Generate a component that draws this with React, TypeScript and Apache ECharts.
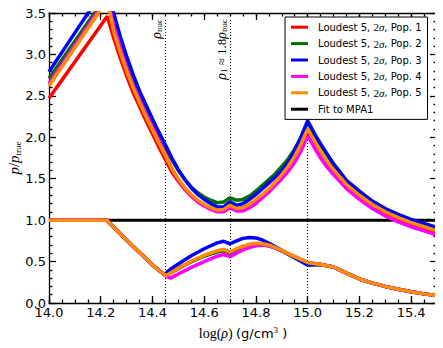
import React, { useEffect, useRef } from 'react';
import * as echarts from 'echarts';

type P = [number, number];

const popNames = [
  'Loudest 5, 2σ, Pop. 1',
  'Loudest 5, 2σ, Pop. 2',
  'Loudest 5, 2σ, Pop. 3',
  'Loudest 5, 2σ, Pop. 4',
  'Loudest 5, 2σ, Pop. 5',
];
const fitName = 'Fit to MPA1';
const popColors = ['#ff0000', '#007000', '#0000ff', '#ff00ff', '#ff8c00'];

const pop1Upper: P[] = [[14.0,2.47],[14.1,2.91],[14.2,3.35],[14.225,3.46],[14.25,3.20],[14.275,2.96],[14.3,2.74],[14.325,2.54],[14.35,2.37],[14.375,2.20],[14.4,2.04],[14.425,1.88],[14.45,1.73],[14.475,1.58],[14.5,1.47],[14.525,1.37],[14.55,1.29],[14.575,1.23],[14.6,1.18],[14.625,1.14],[14.65,1.11],[14.675,1.12],[14.7,1.18],[14.725,1.14],[14.75,1.15],[14.775,1.19],[14.8,1.24],[14.825,1.30],[14.85,1.37],[14.875,1.45],[14.9,1.54],[14.925,1.64],[14.95,1.75],[14.975,1.89],[15.0,2.06],[15.025,1.93],[15.05,1.81],[15.075,1.69],[15.1,1.59],[15.15,1.41],[15.2,1.28],[15.25,1.17],[15.3,1.08],[15.35,1.01],[15.4,0.95],[15.45,0.90],[15.5,0.85]];
const pop2Upper: P[] = [[14.0,2.71],[14.1,3.16],[14.2,3.61],[14.225,3.72],[14.25,3.40],[14.275,3.15],[14.3,2.92],[14.325,2.70],[14.35,2.51],[14.375,2.34],[14.4,2.17],[14.425,2.01],[14.45,1.87],[14.475,1.73],[14.5,1.60],[14.525,1.49],[14.55,1.40],[14.575,1.33],[14.6,1.28],[14.625,1.24],[14.65,1.21],[14.675,1.22],[14.7,1.27],[14.725,1.24],[14.75,1.25],[14.775,1.29],[14.8,1.35],[14.825,1.42],[14.85,1.49],[14.875,1.56],[14.9,1.65],[14.925,1.74],[14.95,1.86],[14.975,2.00],[15.0,2.18],[15.025,2.04],[15.05,1.91],[15.075,1.79],[15.1,1.67],[15.15,1.47],[15.2,1.34],[15.25,1.22],[15.3,1.13],[15.35,1.06],[15.4,1.00],[15.45,0.95],[15.5,0.90]];
const pop3Upper: P[] = [[14.0,2.79],[14.1,3.26],[14.2,3.73],[14.225,3.85],[14.25,3.50],[14.275,3.22],[14.3,2.98],[14.325,2.76],[14.35,2.56],[14.375,2.39],[14.4,2.22],[14.425,2.06],[14.45,1.91],[14.475,1.75],[14.5,1.61],[14.525,1.49],[14.55,1.39],[14.575,1.31],[14.6,1.25],[14.625,1.20],[14.65,1.16],[14.675,1.16],[14.7,1.22],[14.725,1.18],[14.75,1.20],[14.775,1.25],[14.8,1.31],[14.825,1.38],[14.85,1.45],[14.875,1.52],[14.9,1.60],[14.925,1.70],[14.95,1.84],[14.975,2.01],[15.0,2.20],[15.025,2.05],[15.05,1.92],[15.075,1.80],[15.1,1.68],[15.15,1.48],[15.2,1.35],[15.25,1.23],[15.3,1.14],[15.35,1.07],[15.4,1.01],[15.45,0.96],[15.5,0.91]];
const pop4Upper: P[] = [[14.0,2.65],[14.1,3.11],[14.2,3.57],[14.225,3.68],[14.25,3.35],[14.275,3.08],[14.3,2.84],[14.325,2.63],[14.35,2.45],[14.375,2.28],[14.4,2.12],[14.425,1.96],[14.45,1.80],[14.475,1.62],[14.5,1.49],[14.525,1.38],[14.55,1.29],[14.575,1.22],[14.6,1.17],[14.625,1.13],[14.65,1.10],[14.675,1.10],[14.7,1.15],[14.725,1.11],[14.75,1.11],[14.775,1.15],[14.8,1.20],[14.825,1.27],[14.85,1.34],[14.875,1.42],[14.9,1.50],[14.925,1.59],[14.95,1.70],[14.975,1.84],[15.0,2.02],[15.025,1.88],[15.05,1.75],[15.075,1.64],[15.1,1.55],[15.15,1.38],[15.2,1.25],[15.25,1.14],[15.3,1.05],[15.35,0.98],[15.4,0.92],[15.45,0.87],[15.5,0.82]];
const pop5Upper: P[] = [[14.0,2.62],[14.1,3.08],[14.2,3.54],[14.225,3.66],[14.25,3.28],[14.275,3.03],[14.3,2.80],[14.325,2.60],[14.35,2.42],[14.375,2.25],[14.4,2.09],[14.425,1.93],[14.45,1.78],[14.475,1.62],[14.5,1.50],[14.525,1.39],[14.55,1.31],[14.575,1.24],[14.6,1.19],[14.625,1.15],[14.65,1.12],[14.675,1.13],[14.7,1.18],[14.725,1.14],[14.75,1.15],[14.775,1.19],[14.8,1.25],[14.825,1.31],[14.85,1.38],[14.875,1.46],[14.9,1.55],[14.925,1.65],[14.95,1.77],[14.975,1.92],[15.0,2.10],[15.025,1.96],[15.05,1.83],[15.075,1.71],[15.1,1.61],[15.15,1.43],[15.2,1.30],[15.25,1.19],[15.3,1.10],[15.35,1.03],[15.4,0.97],[15.45,0.92],[15.5,0.87]];

// lower branch: shared start, per-population middle, shared tail
const lowerStart: P[] = [[14.0,1.0],[14.1,1.0],[14.2,1.0],[14.224,1.0],[14.25,0.915],[14.275,0.835],[14.3,0.76],[14.325,0.685],[14.35,0.61],[14.375,0.54],[14.4,0.46],[14.425,0.395],[14.45,0.335]];
const pop1LowerMid: P[] = [[14.455,0.335],[14.5,0.415],[14.55,0.50],[14.6,0.57],[14.65,0.625],[14.675,0.64],[14.7,0.61],[14.725,0.65],[14.75,0.68],[14.775,0.70],[14.8,0.715],[14.825,0.71],[14.85,0.695],[14.875,0.665],[14.9,0.63],[14.95,0.555],[15.0,0.485]];
const pop2LowerMid: P[] = [[14.455,0.34],[14.5,0.42],[14.55,0.50],[14.6,0.565],[14.65,0.615],[14.675,0.63],[14.7,0.60],[14.725,0.64],[14.75,0.67],[14.775,0.69],[14.8,0.70],[14.825,0.70],[14.85,0.69],[14.875,0.665],[14.9,0.63],[14.95,0.545],[15.0,0.46]];
const pop3LowerMid: P[] = [[14.455,0.37],[14.475,0.42],[14.5,0.47],[14.55,0.57],[14.6,0.655],[14.65,0.725],[14.675,0.745],[14.7,0.715],[14.725,0.75],[14.75,0.78],[14.775,0.79],[14.8,0.785],[14.825,0.76],[14.85,0.72],[14.875,0.68],[14.9,0.635],[14.95,0.55],[15.0,0.46]];
const pop4LowerMid: P[] = [[14.455,0.32],[14.47,0.30],[14.5,0.35],[14.55,0.43],[14.6,0.50],[14.65,0.565],[14.675,0.585],[14.7,0.56],[14.725,0.60],[14.75,0.64],[14.775,0.67],[14.8,0.69],[14.825,0.70],[14.85,0.69],[14.875,0.665],[14.9,0.63],[14.95,0.56],[15.0,0.49]];
const pop5LowerMid: P[] = [[14.455,0.335],[14.5,0.42],[14.55,0.505],[14.6,0.575],[14.65,0.63],[14.675,0.645],[14.7,0.615],[14.725,0.655],[14.75,0.685],[14.775,0.71],[14.8,0.72],[14.825,0.715],[14.85,0.70],[14.875,0.67],[14.9,0.635],[14.95,0.56],[15.0,0.49]];
const lowerTail: P[] = [[15.05,0.465],[15.1,0.435],[15.15,0.36],[15.2,0.29],[15.25,0.24],[15.3,0.20],[15.35,0.165],[15.4,0.135],[15.45,0.11],[15.5,0.09]];

const fitLine: P[] = [[14.0,1.0],[15.5,1.0]];

const markerX = [14.45, 14.7, 15.0];
const markerTop = 3.44;

const uppers = [pop1Upper, pop2Upper, pop3Upper, pop4Upper, pop5Upper];
const lowerMids = [pop1LowerMid, pop2LowerMid, pop3LowerMid, pop4LowerMid, pop5LowerMid];

const X_MIN = 14.0, X_MAX = 15.5, Y_MIN = 0, Y_MAX = 3.5;

const SERIF = 'Liberation Serif';
const SANS = 'DejaVu Sans';

export default function App() {
  const ref = useRef<HTMLDivElement>(null);
  useEffect(() => {
    if (!ref.current) return;
    const chart = echarts.init(ref.current, null, { renderer: 'svg' });

    const frame = { color: '#000', width: 1.3 };
    const baseX = { type: 'value', min: X_MIN, max: X_MAX, splitLine: { show: false } };
    const baseY = { type: 'value', min: Y_MIN, max: Y_MAX, interval: 0.5, splitLine: { show: false } };

    const lineLabelRich = {
      i: { fontFamily: SERIF, fontStyle: 'italic', fontSize: 14, color: '#000', lineHeight: 14 },
      r: { fontFamily: SERIF, fontSize: 13, color: '#000', lineHeight: 14 },
      s: { fontFamily: SERIF, fontSize: 9, color: '#000', lineHeight: 8, verticalAlign: 'bottom' },
    };

    const markData: any[] = markerX.map((x, k) => {
      const label =
        k === 0
          ? { show: true, formatter: '{i|ρ}{s|nuc}' }
          : k === 1
          ? { show: true, formatter: '{i|ρ}{s|1}{r| ≈ 1.8}{i|ρ}{s|nuc}' }
          : { show: false };
      return [{ coord: [x, 0], label }, { coord: [x, markerTop] }];
    });

    const series: any[] = [];
    series.push({
      type: 'line',
      name: fitName,
      data: fitLine,
      showSymbol: false,
      symbol: 'none',
      color: '#000',
      lineStyle: { color: '#000', width: 3 },
      z: 1,
      markLine: {
        silent: true,
        symbol: ['none', 'none'],
        lineStyle: { color: '#000', width: 1, type: [1, 2] },
        label: {
          position: 'insideEndTop',
          distance: [1, 2],
          color: '#000',
          rich: lineLabelRich,
        },
        data: markData,
      },
    });
    for (let k = 0; k < 5; k++) {
      const lower = [...lowerStart, ...lowerMids[k], ...lowerTail];
      [uppers[k], lower].forEach((d) => {
        series.push({
          type: 'line',
          name: popNames[k],
          data: d,
          symbol: 'none',
          showSymbol: false,
          color: popColors[k],
          lineStyle: { color: popColors[k], width: 3.5 },
          z: 2 + k,
        });
      });
    }

    chart.setOption({
      animation: false,
      grid: { left: 49, right: 6, top: 13, bottom: 45, containLabel: false, outerBoundsMode: 'none' },
      legend: {
        orient: 'vertical',
        left: 285,
        top: 17,
        z: 20,
        padding: [2, 6, 2, 6],
        itemGap: 0,
        itemWidth: 17,
        itemHeight: 3,
        icon: 'rect',
        backgroundColor: '#fff',
        borderColor: '#000',
        borderWidth: 1,
        selectedMode: false,
        data: [...popNames, fitName],
        formatter: (name: string) => name.replace('2σ', '{mr|2}{mi|σ}'),
        textStyle: {
          fontFamily: SANS,
          fontSize: 10,
          color: '#000',
          lineHeight: 16.4,
          padding: [0, 0, 0, 5],
          rich: {
            mr: { fontFamily: SERIF, fontSize: 11, color: '#000', lineHeight: 16.4 },
            mi: { fontFamily: SERIF, fontStyle: 'italic', fontSize: 11, color: '#000', lineHeight: 16.4 },
          },
        },
      },
      xAxis: [
        {
          ...baseX,
          interval: 0.2,
          position: 'bottom',
          axisLine: { show: true, lineStyle: frame },
          axisTick: { show: true, inside: true, length: 7, lineStyle: frame },
          minorTick: { show: false },
          axisLabel: {
            show: true,
            margin: 3,
            fontFamily: SANS,
            fontSize: 13,
            color: '#000',
            showMaxLabel: false,
            formatter: (v: number) => v.toFixed(1),
          },
          name: '{r|log(}{i|ρ}{r|)} {s|(g/cm}{sup|3}{s| )}',
          nameLocation: 'middle',
          nameGap: 22,
          nameMoveOverlap: false,
          nameTextStyle: {
            color: '#000',
            rich: {
              r: { fontFamily: SERIF, fontSize: 14, color: '#000', lineHeight: 16 },
              i: { fontFamily: SERIF, fontStyle: 'italic', fontSize: 14, color: '#000', lineHeight: 16 },
              s: { fontFamily: SANS, fontSize: 13, color: '#000', lineHeight: 16 },
              sup: { fontFamily: SERIF, fontSize: 9, color: '#000', lineHeight: 10, verticalAlign: 'top' },
            },
          },
        },
        {
          ...baseX,
          interval: 0.05,
          position: 'bottom',
          axisLine: { show: false },
          axisTick: { show: true, inside: true, length: 3.5, lineStyle: frame },
          axisLabel: { show: false },
        },
        {
          ...baseX,
          interval: 0.2,
          position: 'top',
          axisLine: { show: true, lineStyle: frame },
          axisTick: { show: true, inside: true, length: 7, lineStyle: frame },
          axisLabel: { show: false },
        },
        {
          ...baseX,
          interval: 0.05,
          position: 'top',
          axisLine: { show: false },
          axisTick: { show: true, inside: true, length: 3.5, lineStyle: frame },
          axisLabel: { show: false },
        },
      ],
      yAxis: [
        {
          ...baseY,
          position: 'left',
          axisLine: { show: true, lineStyle: frame },
          axisTick: { show: true, inside: true, length: 7, lineStyle: frame },
          minorTick: { show: true, splitNumber: 5, length: 3.5, lineStyle: frame },
          axisLabel: {
            show: true,
            margin: 3,
            fontFamily: SANS,
            fontSize: 13,
            color: '#000',
            formatter: (v: number) => v.toFixed(1),
          },
          name: '{i|p}{r|/}{i|p}{s|true}',
          nameLocation: 'middle',
          nameRotate: 90,
          nameGap: 27,
          nameMoveOverlap: false,
          nameTextStyle: {
            color: '#000',
            rich: {
              i: { fontFamily: SERIF, fontStyle: 'italic', fontSize: 15, color: '#000', lineHeight: 16 },
              r: { fontFamily: SERIF, fontSize: 15, color: '#000', lineHeight: 16 },
              s: { fontFamily: SERIF, fontSize: 9, color: '#000', lineHeight: 9, verticalAlign: 'bottom' },
            },
          },
        },
        {
          ...baseY,
          position: 'right',
          axisLine: { show: true, lineStyle: frame },
          axisTick: { show: true, inside: true, length: 7, lineStyle: frame },
          minorTick: { show: true, splitNumber: 5, length: 3.5, lineStyle: frame },
          axisLabel: { show: false },
        },
      ],
      series,
    } as any);

    return () => chart.dispose();
  }, []);

  return <div ref={ref} style={{ width: 443, height: 348, marginLeft: -8, marginTop: -8 }} />;
}
